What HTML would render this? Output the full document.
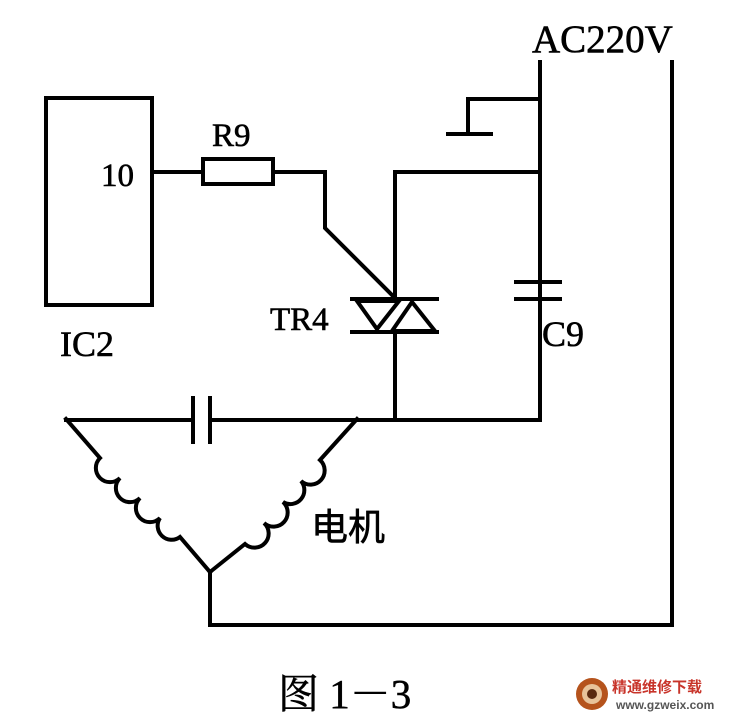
<!DOCTYPE html>
<html><head><meta charset="utf-8"><style>
html,body{margin:0;padding:0;background:#fff;width:737px;height:720px;overflow:hidden}
</style></head><body>
<svg width="737" height="720" viewBox="0 0 737 720" xmlns="http://www.w3.org/2000/svg">
<g stroke="#000" stroke-width="4" fill="none" stroke-linecap="square">
<path d="M540 62 V420 H210 M193 420 H66"/>
<path d="M672 62 V625 H210 V572"/>
<path d="M540 99 H468 V134 M448 134 H491"/>
<path d="M540 172 H395 V298 M395 332 V420"/>
<rect x="46" y="98" width="106" height="207"/>
<path d="M152 172 H203 M273 172 H325 V228 L393 296"/>
<rect x="203" y="159" width="70" height="25"/>
<path d="M352 299 H437 M352 332 H437"/>
<path d="M357 301 L399 301 L377 329 Z"/>
<path d="M392 331 L435 331 L412 302 Z"/>
<path d="M516 282 H560 M516 299 H560" />
<path d="M193 398 V442 M210 398 V442"/>
<path d="M66 419 L100 458 A14 14 0 0 0 120 478 A14 14 0 0 0 140 498 A14 14 0 0 0 160 518 A14 14 0 0 0 180 537 L210 572"/>
<path d="M357 419 L320 460 A14 14 0 0 1 301 481 A14 14 0 0 1 283 502 A14 14 0 0 1 264 523 A14 14 0 0 1 245 544 L210 572"/>
</g>
<g font-family="Liberation Serif, serif" fill="#000" stroke="#000" stroke-width="0.6">
<text x="532" y="52" font-size="39">AC220V</text>
<text x="212" y="146" font-size="33">R9</text>
<text x="101" y="186" font-size="33">10</text>
<text x="60" y="356" font-size="36">IC2</text>
<text x="270" y="330" font-size="33">TR4</text>
<text x="542" y="346" font-size="36">C9</text>
</g>
<text x="311" y="540" font-size="37" stroke="#000" stroke-width="0.6" font-family="Noto Sans CJK SC, sans-serif">电机</text>
<text x="278" y="708" font-size="41" stroke="#000" stroke-width="0.5" font-family="Liberation Serif, Noto Serif CJK SC, serif">图 1－3</text>
<g>
<circle cx="592" cy="694" r="16" fill="#b5531c"/>
<circle cx="592" cy="694" r="10" fill="#e8c39a"/>
<circle cx="592" cy="694" r="5" fill="#5a2a10"/>
<text x="612" y="692" font-size="15" font-weight="bold" fill="#c8342a" font-family="Noto Sans CJK SC, sans-serif">精通维修下载</text>
<text x="616" y="709" font-size="12" font-weight="bold" fill="#555" font-family="Liberation Sans, sans-serif">www.gzweix.com</text>
</g>
</svg>
</body></html>
